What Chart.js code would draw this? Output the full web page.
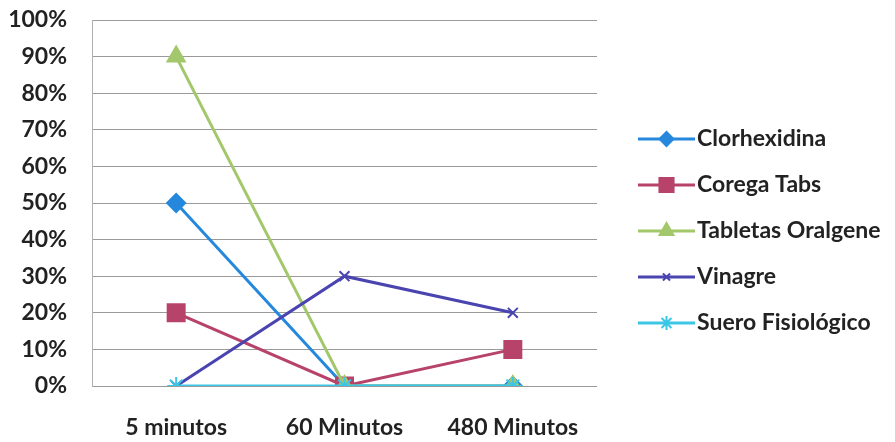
<!DOCTYPE html>
<html>
<head>
<meta charset="utf-8">
<script src="https://cdn.jsdelivr.net/npm/chart.js@4.4.0/dist/chart.umd.min.js"></script>
<style>
  html, body { margin: 0; padding: 0; background: #fff; }
  #wrap { width: 895px; height: 442px; }
</style>
</head>
<body>
<div id="wrap"><canvas id="chart" width="895" height="442"></canvas></div>
<script>
// tiempos de medición y porcentajes por solución
const categories = ['5 minutos', '60 Minutos', '480 Minutos'];
const clorhexidina = [50, 0, 0];
const coregaTabs = [20, 0, 10];
const tabletasOralgene = [90, 0, 0];
const vinagre = [0, 30, 20];
const sueroFisiologico = [0, 0, 0];

const FONT = { family: 'Lato, "Open Sans", sans-serif', size: 23, weight: 'bold' };

function serie(label, data, color, style, radius, order) {
    return {
        label,
        data,
        borderColor: color,
        backgroundColor: color,
        borderWidth: 3,
        pointStyle: style,
        pointRadius: radius,
        pointHoverRadius: radius,
        pointBackgroundColor: color,
        pointBorderColor: color,
        pointBorderWidth: 2,
        tension: 0,
        order,
        legendRadius: Math.max(5, radius - 2)
    };
}

// leyenda a la derecha: línea + marcador como en Excel
const sideLegend = {
    id: 'sideLegend',
    afterDraw(chart) {
        const ctx = chart.ctx;
        const x0 = 638, x1 = 695, top = 139, step = 46;
        chart.data.datasets.forEach((ds, i) => {
            const y = top + i * step;
            ctx.save();
            ctx.strokeStyle = ds.borderColor;
            ctx.fillStyle = ds.backgroundColor;
            ctx.lineWidth = 3;
            ctx.beginPath();
            ctx.moveTo(x0, y);
            ctx.lineTo(x1, y);
            ctx.stroke();
            ctx.lineWidth = 2;
            Chart.helpers.drawPoint(ctx, {
                pointStyle: ds.pointStyle,
                radius: ds.legendRadius,
                borderWidth: 2,
                rotation: 0
            }, (x0 + x1) / 2, y);
            ctx.fillStyle = '#222';
            ctx.font = `${FONT.weight} ${FONT.size}px ${FONT.family}`;
            ctx.textAlign = 'left';
            ctx.textBaseline = 'middle';
            ctx.fillText(ds.label, x1 + 2, y);
            ctx.restore();
        });
    }
};

new Chart(document.getElementById('chart'), {
    type: 'line',
    data: {
        labels: categories,
        datasets: [
            serie('Clorhexidina', clorhexidina, '#2588dc', 'rectRot', 9, 4),
            serie('Corega Tabs', coregaTabs, '#b8436a', 'rect', 12, 3),
            serie('Tabletas Oralgene', tabletasOralgene, '#a3c86b', 'triangle', 10, 2),
            serie('Vinagre', vinagre, '#4a44b0', 'crossRot', 7, 1),
            serie('Suero Fisiológico', sueroFisiologico, '#3cc6e6', 'star', 9, 0)
        ]
    },
    options: {
        responsive: false,
        animation: false,
        layout: { padding: { top: 20, right: 298, left: 0, bottom: 0 } },
        plugins: {
            legend: { display: false },
            tooltip: { enabled: false }
        },
        scales: {
            x: {
                offset: true,
                grid: { display: false, drawTicks: false },
                border: { display: false },
                ticks: { color: '#222', font: FONT, padding: 28, maxRotation: 0 },
                afterFit(scale) {
                    scale.height = 56;
                    scale.paddingTop = 0;
                    scale.paddingBottom = 0;
                }
            },
            y: {
                min: 0,
                max: 100,
                grid: { color: '#9a9a9a', drawTicks: false },
                border: { display: true, color: '#b0b0b0' },
                ticks: {
                    stepSize: 10,
                    color: '#222',
                    font: FONT,
                    padding: 25,
                    callback: v => v + '%'
                },
                afterFit(scale) {
                    scale.width = 92;
                    scale.paddingTop = 0;
                    scale.paddingBottom = 0;
                }
            }
        }
    },
    plugins: [sideLegend]
});
</script>
</body>
</html>
